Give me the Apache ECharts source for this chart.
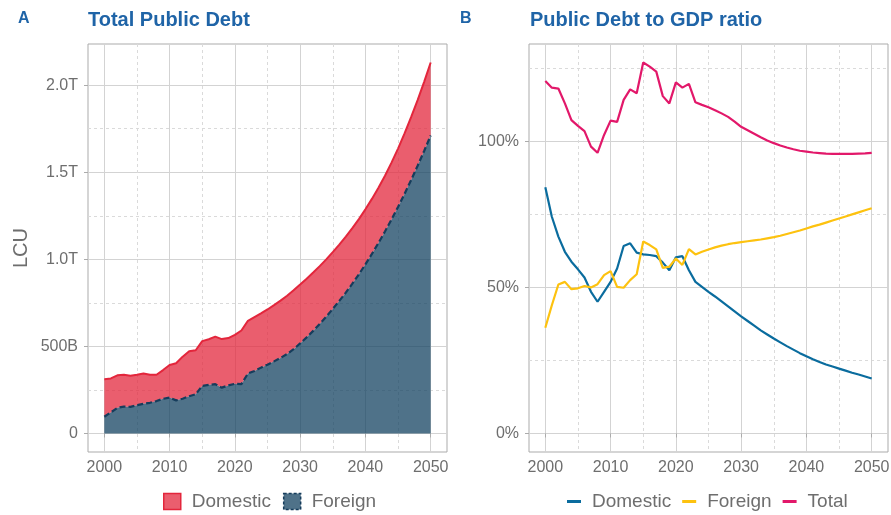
<!DOCTYPE html>
<html>
<head>
<meta charset="utf-8">
<title>Public Debt</title>
<script src="https://cdn.jsdelivr.net/npm/echarts@6/dist/echarts.min.js"></script>
<style>
  html, body { margin: 0; padding: 0; background: #ffffff; }
  #chart { width: 891px; height: 515px; }
</style>
</head>
<body>
<div id="chart"></div>
<script>
// Years covered by both panels (history plus projection)
const years = [
  2000, 2001, 2002, 2003, 2004, 2005, 2006, 2007, 2008, 2009,
  2010, 2011, 2012, 2013, 2014, 2015, 2016, 2017, 2018, 2019,
  2020, 2021, 2022, 2023, 2024, 2025, 2026, 2027, 2028, 2029,
  2030, 2031, 2032, 2033, 2034, 2035, 2036, 2037, 2038, 2039,
  2040, 2041, 2042, 2043, 2044, 2045, 2046, 2047, 2048, 2049, 2050
];

// Panel A: debt stock, billions of LCU
const debtForeign = [
  96, 121, 147, 154, 153, 162, 170, 176, 186, 199,
  206, 190, 199, 214, 225, 273, 279, 283, 263, 276,
  285, 283, 344, 359, 378, 395, 414, 434, 456, 484,
  517, 552, 589, 629, 671, 715, 761, 809, 860, 914,
  971, 1031, 1094, 1160, 1229, 1301, 1376, 1455, 1537, 1622, 1711
];
const debtDomestic = [
  215, 195, 187, 183, 179, 175, 174, 161, 151, 165,
  187, 213, 242, 258, 253, 257, 262, 273, 279, 272,
  281, 308, 303, 309, 311, 317, 323, 329, 335, 338,
  338, 337, 335, 332, 329, 326, 323, 321, 319, 317,
  316, 316, 317, 320, 326, 335, 347, 361, 377, 397, 419
];

// Panel B: debt to GDP, percent
const ratioDomestic = [
  84.3, 74.2, 67.4, 62.2, 58.8, 56.2, 53.4, 48.5, 45.1, 48.5,
  51.9, 56.5, 64.2, 65.1, 61.9, 61.3, 61.1, 60.7, 58.5, 55.9,
  60.3, 60.7, 55.9, 51.9, 50.2, 48.5, 46.9, 45.2, 43.5, 41.8,
  40.1, 38.5, 36.9, 35.3, 33.9, 32.5, 31.2, 29.9, 28.7, 27.5,
  26.4, 25.4, 24.5, 23.6, 22.9, 22.2, 21.5, 20.8, 20.2, 19.5, 18.8
];
const ratioForeign = [
  36.2, 43.9, 51.0, 51.9, 49.4, 49.7, 50.5, 50.0, 51.1, 54.2,
  55.6, 50.2, 49.9, 52.5, 54.5, 65.7, 64.5, 63.0, 56.7, 57.1,
  59.9, 57.7, 63.1, 61.3, 62.2, 63.0, 63.7, 64.3, 64.8, 65.2,
  65.5, 65.8, 66.1, 66.4, 66.8, 67.2, 67.7, 68.3, 68.9, 69.5,
  70.2, 70.9, 71.5, 72.2, 72.9, 73.6, 74.3, 75.0, 75.7, 76.4, 77.1
];
const ratioTotal = [
  120.7, 118.4, 118.1, 113.0, 107.3, 105.3, 103.5, 98.2, 96.1, 102.2,
  107.1, 106.7, 114.2, 117.8, 116.5, 127.0, 125.6, 123.9, 115.5, 113.0,
  120.2, 118.4, 119.7, 113.4, 112.5, 111.7, 110.7, 109.6, 108.4, 106.8,
  105.0, 103.8, 102.6, 101.4, 100.3, 99.4, 98.6, 97.9, 97.3, 96.8,
  96.5, 96.2, 96.0, 95.8, 95.7, 95.7, 95.7, 95.7, 95.8, 95.9, 96.1
];

// Tick positions and labels
const yearTicks = [2000, 2010, 2020, 2030, 2040, 2050];
const yearMinorTicks = [2005, 2015, 2025, 2035, 2045];
const debtTicks = [0, 500, 1000, 1500, 2000];
const debtTickLabels = ['0', '500B', '1.0T', '1.5T', '2.0T'];
const debtMinorTicks = [250, 750, 1250, 1750];
const ratioTicks = [0, 50, 100];
const ratioTickLabels = ['0%', '50%', '100%'];
const ratioMinorTicks = [25, 75, 125];

const FONT = "'Liberation Sans', Arial, Helvetica, sans-serif";
const TEXT = '#6E6E6E';
const FRAME = '#ABABAB';
const MAJOR = '#D3D3D3';
const MINOR = '#DADADA';
const TITLE = '#1F64A7';

const RED = '#E3263C';
const RED_FILL = 'rgba(227,38,60,0.74)';
const NAVY = '#163D5C';
const NAVY_FILL = 'rgba(20,67,98,0.75)';
const C_DOM = '#0A6C9E';
const C_FOR = '#FDC20F';
const C_TOT = '#E2186A';

// Year ranges padded like the panels' frames
const yearMin = 1997.5, yearMax = 2052.5;
const debtMin = -106.5, debtMax = 2236.5;
const ratioMin = -6.35, ratioMax = 133.35;

function majorAxis(gridIndex, min, max, ticks, fmt, margin, extra) {
  return Object.assign({
    type: 'value', gridIndex, min, max,
    axisLine: { show: false },
    axisTick: { show: true, length: 4, customValues: ticks, lineStyle: { color: FRAME, width: 1 } },
    axisLabel: { customValues: ticks, formatter: fmt, fontSize: 16, color: TEXT, fontFamily: FONT, margin },
    splitLine: { show: true, lineStyle: { color: MAJOR, width: 1 } },
    minorTick: { show: false }, minorSplitLine: { show: false }
  }, extra || {});
}
function minorAxis(gridIndex, min, max, ticks) {
  return {
    type: 'value', gridIndex, min, max,
    axisLine: { show: false },
    axisTick: { show: false, customValues: ticks },
    axisLabel: { show: false, customValues: ticks },
    splitLine: { show: true, lineStyle: { color: MINOR, width: 1, type: [3, 3] } }
  };
}

// value first, year second, so stacking runs along the value dimension
const pairs = (arr) => arr.map((v, i) => [v, years[i]]);

const chart = echarts.init(document.getElementById('chart'), null, { renderer: 'canvas' });

const titleStyle = (size) => ({ fontSize: size, fontWeight: 'bold', color: TITLE, fontFamily: FONT });

chart.setOption({
  animation: false,
  backgroundColor: '#ffffff',
  textStyle: { fontFamily: FONT },
  title: [
    { text: 'A', left: 18, top: 11, padding: 0, textStyle: titleStyle(16) },
    { text: 'Total Public Debt', left: 88, top: 10, padding: 0, textStyle: titleStyle(20) },
    { text: 'B', left: 460, top: 11, padding: 0, textStyle: titleStyle(16) },
    { text: 'Public Debt to GDP ratio', left: 530, top: 10, padding: 0, textStyle: titleStyle(20) }
  ],
  grid: [
    { left: 88, top: 44, width: 359, height: 408, show: true, borderColor: FRAME, borderWidth: 1, backgroundColor: 'transparent', containLabel: false, outerBoundsMode: 'none' },
    { left: 529, top: 44, width: 359, height: 408, show: true, borderColor: FRAME, borderWidth: 1, backgroundColor: 'transparent', containLabel: false, outerBoundsMode: 'none' }
  ],
  xAxis: [
    majorAxis(0, yearMin, yearMax, yearTicks, v => String(v), 8),
    minorAxis(0, yearMin, yearMax, yearMinorTicks),
    majorAxis(1, yearMin, yearMax, yearTicks, v => String(v), 8),
    minorAxis(1, yearMin, yearMax, yearMinorTicks)
  ],
  yAxis: [
    majorAxis(0, debtMin, debtMax, debtTicks, v => debtTickLabels[debtTicks.indexOf(v)], 10, {
      name: 'LCU', nameLocation: 'middle', nameGap: 57, nameRotate: 90,
      nameTextStyle: { fontSize: 20, color: TEXT, fontFamily: FONT }
    }),
    minorAxis(0, debtMin, debtMax, debtMinorTicks),
    majorAxis(1, ratioMin, ratioMax, ratioTicks, v => ratioTickLabels[ratioTicks.indexOf(v)], 10),
    minorAxis(1, ratioMin, ratioMax, ratioMinorTicks)
  ],
  legend: [
    {
      left: 163, top: 492, padding: 0, itemWidth: 17, itemHeight: 16, itemGap: 12, icon: 'rect',
      selectedMode: false,
      textStyle: { fontSize: 19, color: TEXT, fontFamily: FONT, padding: [0, 0, 0, 6] },
      data: [
        { name: 'Domestic', itemStyle: { color: RED_FILL, borderColor: RED, borderWidth: 1.5 } },
        { name: 'Foreign', itemStyle: { color: NAVY_FILL, borderColor: NAVY, borderWidth: 1.5, borderType: [3, 2] } }
      ]
    },
    {
      left: 567, top: 492, padding: 0, itemWidth: 14, itemHeight: 3, itemGap: 11, icon: 'rect',
      selectedMode: false,
      textStyle: { fontSize: 19, color: TEXT, fontFamily: FONT, padding: [0, 0, 0, 6] },
      data: [
        { name: 'Domestic', itemStyle: { color: C_DOM, borderWidth: 0 } },
        { name: 'Foreign', itemStyle: { color: C_FOR, borderWidth: 0 } },
        { name: 'Total', itemStyle: { color: C_TOT, borderWidth: 0 } }
      ]
    }
  ],
  series: [
    {
      name: 'Foreign', type: 'line', xAxisIndex: 0, yAxisIndex: 0, stack: 'debt',
      data: pairs(debtForeign), encode: { x: 1, y: 0 },
      symbol: 'none', z: 4,
      lineStyle: { color: NAVY, width: 2.2, type: [6, 3] },
      itemStyle: { color: NAVY },
      areaStyle: { color: NAVY_FILL, opacity: 1 }
    },
    {
      name: 'Domestic', type: 'line', xAxisIndex: 0, yAxisIndex: 0, stack: 'debt',
      data: pairs(debtDomestic), encode: { x: 1, y: 0 },
      symbol: 'none', z: 3,
      lineStyle: { color: RED, width: 2 },
      itemStyle: { color: RED },
      areaStyle: { color: RED_FILL, opacity: 1 }
    },
    {
      name: 'Domestic', type: 'line', xAxisIndex: 2, yAxisIndex: 2,
      data: pairs(ratioDomestic), encode: { x: 1, y: 0 },
      symbol: 'none', z: 3,
      lineStyle: { color: C_DOM, width: 2.2 }, itemStyle: { color: C_DOM }
    },
    {
      name: 'Foreign', type: 'line', xAxisIndex: 2, yAxisIndex: 2,
      data: pairs(ratioForeign), encode: { x: 1, y: 0 },
      symbol: 'none', z: 4,
      lineStyle: { color: C_FOR, width: 2.2 }, itemStyle: { color: C_FOR }
    },
    {
      name: 'Total', type: 'line', xAxisIndex: 2, yAxisIndex: 2,
      data: pairs(ratioTotal), encode: { x: 1, y: 0 },
      symbol: 'none', z: 5,
      lineStyle: { color: C_TOT, width: 2.2 }, itemStyle: { color: C_TOT }
    }
  ]
});
</script>
</body>
</html>
